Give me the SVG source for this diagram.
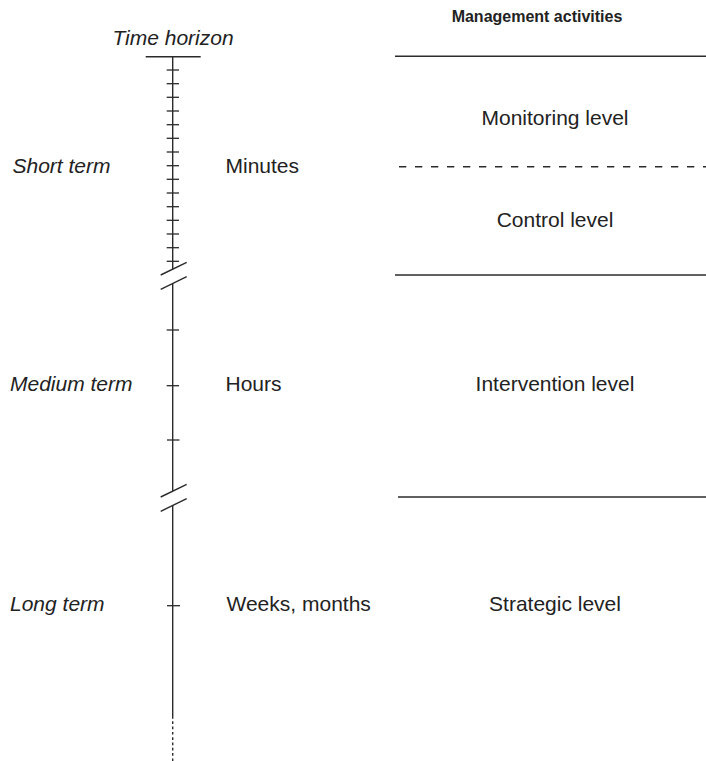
<svg xmlns="http://www.w3.org/2000/svg" width="706" height="761" viewBox="0 0 706 761">
  <style>
    .ln { stroke: #2b2b2b; stroke-width: 1.4; fill: none; }
    .tk { stroke: #2b2b2b; stroke-width: 1.3; fill: none; }
    .t { font-family: "Liberation Sans", Arial, sans-serif; font-size: 21px; fill: #222; }
    .it { font-style: italic; }
    .b { font-weight: bold; font-size: 16px; }
    .mid { text-anchor: middle; }
  </style>
  <rect width="706" height="761" fill="#fff"/>

  <!-- time axis -->
  <g id="time-axis">
    <text class="t it mid" x="173" y="45">Time horizon</text>
    <line class="ln" x1="145.7" y1="56.7" x2="200.7" y2="56.7"/>
    <line class="ln" x1="172.7" y1="56.7" x2="172.7" y2="269"/>
    <!-- minute ticks -->
    <g class="tk">
      <line x1="166.7" y1="70" x2="179" y2="70"/>
      <line x1="166.7" y1="83.7" x2="179" y2="83.7"/>
      <line x1="166.7" y1="97.3" x2="179" y2="97.3"/>
      <line x1="166.7" y1="111" x2="179" y2="111"/>
      <line x1="166.7" y1="124.7" x2="179" y2="124.7"/>
      <line x1="166.7" y1="138.3" x2="179" y2="138.3"/>
      <line x1="166.7" y1="152" x2="179" y2="152"/>
      <line x1="166.7" y1="165.7" x2="179" y2="165.7"/>
      <line x1="166.7" y1="179.3" x2="179" y2="179.3"/>
      <line x1="166.7" y1="193" x2="179" y2="193"/>
      <line x1="166.7" y1="206.7" x2="179" y2="206.7"/>
      <line x1="166.7" y1="220.3" x2="179" y2="220.3"/>
      <line x1="166.7" y1="234" x2="179" y2="234"/>
      <line x1="166.7" y1="247.7" x2="179" y2="247.7"/>
      <line x1="166.7" y1="261.3" x2="179" y2="261.3"/>
    </g>
    <!-- first break -->
    <line class="ln" x1="160.7" y1="275" x2="186.7" y2="262.3"/>
    <line class="ln" x1="160.7" y1="289.3" x2="186.7" y2="276.7"/>
    <line class="ln" x1="172.7" y1="283.5" x2="172.7" y2="491"/>
    <!-- hour ticks -->
    <g class="tk">
      <line x1="166.7" y1="330" x2="179" y2="330"/>
      <line x1="166.7" y1="385.7" x2="179" y2="385.7"/>
      <line x1="167" y1="440" x2="179.5" y2="440"/>
    </g>
    <!-- second break -->
    <line class="ln" x1="160.7" y1="497" x2="186.7" y2="484.3"/>
    <line class="ln" x1="160.7" y1="511.3" x2="186.7" y2="498.7"/>
    <line class="ln" x1="172.7" y1="505.5" x2="172.7" y2="716"/>
    <line class="tk" x1="167" y1="605.7" x2="180" y2="605.7"/>
    <line class="ln" x1="172.7" y1="716" x2="172.7" y2="761" stroke-dasharray="2.7 2.6"/>
  </g>

  <!-- term labels -->
  <g id="short-term">
    <text class="t it" x="12.5" y="172.7">Short term</text>
    <text class="t" x="225.5" y="172.7">Minutes</text>
  </g>
  <g id="medium-term">
    <text class="t it" x="10" y="391">Medium term</text>
    <text class="t" x="225.5" y="391">Hours</text>
  </g>
  <g id="long-term">
    <text class="t it" x="10" y="611">Long term</text>
    <text class="t" x="226.5" y="611">Weeks, months</text>
  </g>

  <!-- management activity levels -->
  <g id="management">
    <text class="t b mid" x="537" y="22">Management activities</text>
  </g>
  <g id="separators">
    <line class="ln" x1="395" y1="56.3" x2="706" y2="56.3"/>
    <line class="ln" x1="399" y1="166.7" x2="706" y2="166.7" stroke-dasharray="7.3 8.7"/>
    <line class="ln" x1="395" y1="275" x2="706" y2="275"/>
    <line class="ln" x1="398" y1="497" x2="706" y2="497"/>
  </g>
  <g id="monitoring-level">
    <text class="t mid" x="555" y="125">Monitoring level</text>
  </g>
  <g id="control-level">
    <text class="t mid" x="555" y="227">Control level</text>
  </g>
  <g id="intervention-level">
    <text class="t mid" x="555" y="391">Intervention level</text>
  </g>
  <g id="strategic-level">
    <text class="t mid" x="555" y="611">Strategic level</text>
  </g>
</svg>
